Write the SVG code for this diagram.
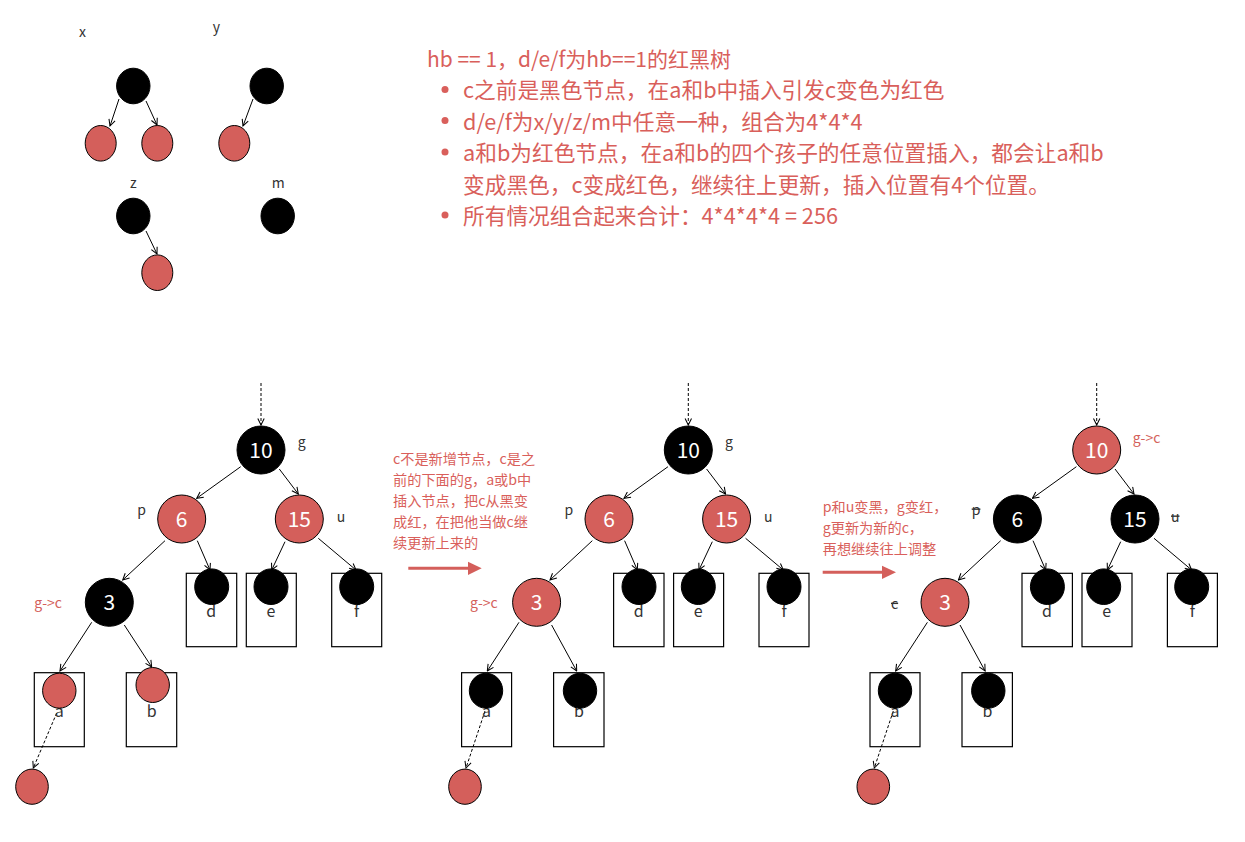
<svg xmlns="http://www.w3.org/2000/svg" width="1245" height="842" viewBox="0 0 1245 842">
<style>
text{font-family:"Noto Sans CJK SC","Noto Sans",sans-serif}
.blk{fill:#000;stroke:#000;stroke-width:1}
.red{fill:#d45f5b;stroke:#000;stroke-width:1}
.box{fill:none;stroke:#000;stroke-width:1.2}
.num{font-size:21px;fill:#fff;text-anchor:middle}
.lbl{font-size:14px;fill:#333}
.lc{font-size:16px;fill:#333;text-anchor:middle}
.rl{font-size:14px;fill:#d45f5b}
.title{font-size:21px;fill:#d95f5b}
.main{font-size:21.7px;fill:#d95f5b}
.note{font-size:14.2px;fill:#d95f5b}
.edge{stroke:#000;stroke-width:1;fill:none;marker-end:url(#open)}
.dot{stroke-dasharray:3 2}
.strike{text-decoration:line-through}
</style>
<defs>
<marker id="open" viewBox="0 0 10 10" refX="9" refY="5" markerWidth="8" markerHeight="8" orient="auto" markerUnits="userSpaceOnUse">
<path d="M1,1 L9,5 L1,9" fill="none" stroke="#000" stroke-width="1.3"/>
</marker>
</defs>

<g id="connectors">
<g id="small-edges">
<line class="edge" x1="119" y1="99" x2="110" y2="126"/>
<line class="edge" x1="146" y1="101" x2="157" y2="125"/>
<line class="edge" x1="253" y1="99" x2="243" y2="126"/>
<line class="edge" x1="146" y1="231" x2="157" y2="254"/>
</g>
<g id="edges-t1">
<line class="edge dot" x1="261" y1="383" x2="261" y2="425"/>
<line class="edge" x1="240.7" y1="466.7" x2="196.7" y2="498.3"/>
<line class="edge" x1="279.3" y1="469" x2="298.3" y2="494"/>
<line class="edge" x1="165" y1="540.7" x2="122.7" y2="580"/>
<line class="edge" x1="197.3" y1="540.7" x2="210" y2="570"/>
<line class="edge" x1="285" y1="541.7" x2="271.7" y2="570"/>
<line class="edge" x1="318.3" y1="538.3" x2="356" y2="570"/>
<line class="edge" x1="91.7" y1="622.3" x2="60" y2="671"/>
<line class="edge" x1="124.3" y1="625" x2="151.7" y2="667"/>
<line class="edge dot" x1="56.7" y1="713" x2="33.3" y2="768"/>
</g>
<g id="edges-t2" transform="translate(427.3 0)">
<line class="edge dot" x1="261" y1="383" x2="261" y2="425"/>
<line class="edge" x1="240.7" y1="466.7" x2="196.7" y2="498.3"/>
<line class="edge" x1="279.3" y1="469" x2="298.3" y2="494"/>
<line class="edge" x1="165" y1="540.7" x2="122.7" y2="580"/>
<line class="edge" x1="197.3" y1="540.7" x2="210" y2="570"/>
<line class="edge" x1="285" y1="541.7" x2="271.7" y2="570"/>
<line class="edge" x1="318.3" y1="538.3" x2="356" y2="570"/>
<line class="edge" x1="91.7" y1="622.3" x2="60" y2="671"/>
<line class="edge" x1="124.3" y1="625" x2="149.4" y2="671"/>
<line class="edge dot" x1="57.7" y1="711" x2="38.7" y2="768"/>
</g>
<g id="edges-t3" transform="translate(835.7 0)">
<line class="edge dot" x1="261" y1="383" x2="261" y2="425"/>
<line class="edge" x1="240.7" y1="466.7" x2="196.7" y2="498.3"/>
<line class="edge" x1="279.3" y1="469" x2="298.3" y2="494"/>
<line class="edge" x1="165" y1="540.7" x2="122.7" y2="580"/>
<line class="edge" x1="197.3" y1="540.7" x2="210" y2="570"/>
<line class="edge" x1="285" y1="541.7" x2="271.7" y2="570"/>
<line class="edge" x1="318.3" y1="538.3" x2="356" y2="570"/>
<line class="edge" x1="91.7" y1="622.3" x2="60" y2="671"/>
<line class="edge" x1="124.3" y1="625" x2="149.4" y2="671"/>
<line class="edge dot" x1="57.6" y1="711" x2="38.6" y2="768"/>
</g>
<g id="transition-arrows">
<line x1="408.3" y1="568.3" x2="469" y2="568.3" stroke="#d45f5b" stroke-width="3"/>
<polygon points="468,561.7 481.7,568.3 468,575" fill="#d45f5b"/>
<line x1="822.7" y1="572.3" x2="883" y2="572.3" stroke="#d45f5b" stroke-width="3"/>
<polygon points="882,565.7 896,572.3 882,579" fill="#d45f5b"/>
</g>
</g>

<g id="small-trees">
<g id="x-tree">
<text class="lbl" x="79" y="37">x</text>
<ellipse class="blk" cx="133.3" cy="86" rx="16.7" ry="17.8"/>
<ellipse class="red" cx="100.7" cy="143.3" rx="15.5" ry="17.8"/>
<ellipse class="red" cx="157.3" cy="143.3" rx="15.5" ry="17.8"/>
</g>
<g id="y-tree">
<text class="lbl" x="212.7" y="32">y</text>
<ellipse class="blk" cx="266.7" cy="86" rx="16.7" ry="17.8"/>
<ellipse class="red" cx="234.3" cy="143.3" rx="15.5" ry="17.8"/>
</g>
<g id="z-tree">
<text class="lbl" x="130" y="188">z</text>
<ellipse class="blk" cx="133.3" cy="216" rx="16.7" ry="17.8"/>
<ellipse class="red" cx="157.3" cy="272.7" rx="15.5" ry="17.8"/>
</g>
<g id="m-tree">
<text class="lbl" x="271.7" y="188">m</text>
<ellipse class="blk" cx="277.7" cy="216" rx="16.7" ry="17.8"/>
</g>
</g>

<g id="description">
<text class="title" x="427" y="66.5">hb == 1，d/e/f为hb==1的红黑树</text>
<circle cx="445" cy="89.5" r="3.5" fill="#d95f5b"/>
<text class="main" x="463" y="98">c之前是黑色节点，在a和b中插入引发c变色为红色</text>
<circle cx="445" cy="120.5" r="3.5" fill="#d95f5b"/>
<text class="main" x="463" y="129.5">d/e/f为x/y/z/m中任意一种，组合为4*4*4</text>
<circle cx="445" cy="152" r="3.5" fill="#d95f5b"/>
<text class="main" x="463" y="161">a和b为红色节点，在a和b的四个孩子的任意位置插入，都会让a和b</text>
<text class="main" x="463" y="192.5">变成黑色，c变成红色，继续往上更新，插入位置有4个位置。</text>
<circle cx="445" cy="215" r="3.5" fill="#d95f5b"/>
<text class="main" x="463" y="224">所有情况组合起来合计：4*4*4*4 = 256</text>
</g>

<g id="note1">
<text class="note" x="393" y="464">c不是新增节点，c是之</text>
<text class="note" x="393" y="485">前的下面的g，a或b中</text>
<text class="note" x="393" y="506">插入节点，把c从黑变</text>
<text class="note" x="393" y="527">成红，在把他当做c继</text>
<text class="note" x="393" y="548">续更新上来的</text>
</g>
<g id="note2">
<text class="note" x="822.7" y="511.5">p和u变黑，g变红，</text>
<text class="note" x="822.7" y="532.8">g更新为新的c，</text>
<text class="note" x="822.7" y="554">再想继续往上调整</text>
</g>

<!-- Tree 1 -->
<g id="tree1">
<g id="t1-n10"><circle class="blk" cx="261" cy="450" r="24"/><text class="num" x="261" y="457.5">10</text><text class="lbl" x="297.7" y="447">g</text></g>
<g id="t1-n6"><circle class="red" cx="181.7" cy="519" r="24"/><text class="num" x="181.7" y="526.5">6</text><text class="lbl" x="137.3" y="514.5">p</text></g>
<g id="t1-n15"><circle class="red" cx="299.3" cy="519" r="24"/><text class="num" x="299.3" y="526.5">15</text><text class="lbl" x="336.7" y="521.5">u</text></g>
<g id="t1-n3"><circle class="blk" cx="109.3" cy="602.3" r="24"/><text class="num" x="109.3" y="609.8">3</text><text class="rl" x="34.3" y="608.3">g-&gt;c</text></g>
<g id="t1-d"><rect class="box" x="186.3" y="573.3" width="50.4" height="73.4"/><text class="lc" x="211.3" y="617">d</text><ellipse class="blk" cx="211.7" cy="586.7" rx="17" ry="17.8"/></g>
<g id="t1-e"><rect class="box" x="246.3" y="573.3" width="50" height="73.4"/><text class="lc" x="271" y="617">e</text><ellipse class="blk" cx="271" cy="586.7" rx="17" ry="17.8"/></g>
<g id="t1-f"><rect class="box" x="331.7" y="573.3" width="50" height="73.4"/><text class="lc" x="356.7" y="617">f</text><ellipse class="blk" cx="356.7" cy="586.7" rx="17" ry="17.8"/></g>
<g id="t1-a"><rect class="box" x="34.3" y="672.7" width="50" height="74"/><text class="lc" x="59.3" y="716.5">a</text><ellipse class="red" cx="59.3" cy="690.7" rx="16.7" ry="17.5"/></g>
<g id="t1-b"><rect class="box" x="126.3" y="672.7" width="50.4" height="74"/><text class="lc" x="151.7" y="716.5">b</text><ellipse class="red" cx="152.7" cy="685" rx="16.7" ry="17.5"/></g>
<g id="t1-new"><ellipse class="red" cx="32" cy="786.7" rx="16.3" ry="17.6"/></g>
</g>

<!-- Tree 2 -->
<g id="tree2" transform="translate(427.3 0)">
<g id="t2-n10"><circle class="blk" cx="261" cy="450" r="24"/><text class="num" x="261" y="457.5">10</text><text class="lbl" x="297.7" y="447">g</text></g>
<g id="t2-n6"><circle class="red" cx="181.7" cy="519" r="24"/><text class="num" x="181.7" y="526.5">6</text><text class="lbl" x="137.3" y="514.5">p</text></g>
<g id="t2-n15"><circle class="red" cx="299.3" cy="519" r="24"/><text class="num" x="299.3" y="526.5">15</text><text class="lbl" x="336.7" y="521.5">u</text></g>
<g id="t2-n3"><circle class="red" cx="109.3" cy="602.3" r="24"/><text class="num" x="109.3" y="609.8">3</text><text class="rl" x="42.7" y="608.3">g-&gt;c</text></g>
<g id="t2-d"><rect class="box" x="186.3" y="573.3" width="50.4" height="73.4"/><text class="lc" x="211.3" y="617">d</text><ellipse class="blk" cx="211.7" cy="586.7" rx="17" ry="17.8"/></g>
<g id="t2-e"><rect class="box" x="246.3" y="573.3" width="50" height="73.4"/><text class="lc" x="271" y="617">e</text><ellipse class="blk" cx="271" cy="586.7" rx="17" ry="17.8"/></g>
<g id="t2-f"><rect class="box" x="331.7" y="573.3" width="50" height="73.4"/><text class="lc" x="356.7" y="617">f</text><ellipse class="blk" cx="356.7" cy="586.7" rx="17" ry="17.8"/></g>
<g id="t2-a"><rect class="box" x="34.3" y="672.7" width="50" height="74"/><text class="lc" x="59.3" y="716.5">a</text><ellipse class="blk" cx="58.7" cy="690.7" rx="16.7" ry="17.5"/></g>
<g id="t2-b"><rect class="box" x="126.3" y="672.7" width="50.4" height="74"/><text class="lc" x="151.7" y="716.5">b</text><ellipse class="blk" cx="152.7" cy="690.7" rx="16.7" ry="17.5"/></g>
<g id="t2-new"><ellipse class="red" cx="37.7" cy="786.7" rx="16.3" ry="17.6"/></g>
</g>

<!-- Tree 3 -->
<g id="tree3" transform="translate(835.7 0)">
<g id="t3-n10"><circle class="red" cx="261" cy="450" r="24"/><text class="num" x="261" y="457.5">10</text><text class="rl" x="297" y="443.3">g-&gt;c</text></g>
<g id="t3-n6"><circle class="blk" cx="181.7" cy="519" r="24"/><text class="num" x="181.7" y="526.5">6</text><text class="lbl strike" x="136" y="514.5">p</text></g>
<g id="t3-n15"><circle class="blk" cx="299.3" cy="519" r="24"/><text class="num" x="299.3" y="526.5">15</text><text class="lbl strike" x="335.3" y="521.5">u</text></g>
<g id="t3-n3"><circle class="red" cx="109.3" cy="602.3" r="24"/><text class="num" x="109.3" y="609.8">3</text><text class="lbl strike" x="55.3" y="608.7">c</text></g>
<g id="t3-d"><rect class="box" x="186.3" y="573.3" width="50.4" height="73.4"/><text class="lc" x="211.3" y="617">d</text><ellipse class="blk" cx="211.7" cy="586.7" rx="17" ry="17.8"/></g>
<g id="t3-e"><rect class="box" x="246.3" y="573.3" width="50" height="73.4"/><text class="lc" x="271" y="617">e</text><ellipse class="blk" cx="268" cy="586.7" rx="17" ry="17.8"/></g>
<g id="t3-f"><rect class="box" x="331.7" y="573.3" width="50" height="73.4"/><text class="lc" x="356.7" y="617">f</text><ellipse class="blk" cx="356" cy="586.7" rx="17" ry="17.8"/></g>
<g id="t3-a"><rect class="box" x="34.3" y="672.7" width="50" height="74"/><text class="lc" x="59.3" y="716.5">a</text><ellipse class="blk" cx="59.3" cy="690.7" rx="16.7" ry="17.5"/></g>
<g id="t3-b"><rect class="box" x="126.3" y="672.7" width="50.4" height="74"/><text class="lc" x="151.7" y="716.5">b</text><ellipse class="blk" cx="152.6" cy="690.7" rx="16.7" ry="17.5"/></g>
<g id="t3-new"><ellipse class="red" cx="37.6" cy="786.7" rx="16.3" ry="17.6"/></g>
</g>
</svg>
